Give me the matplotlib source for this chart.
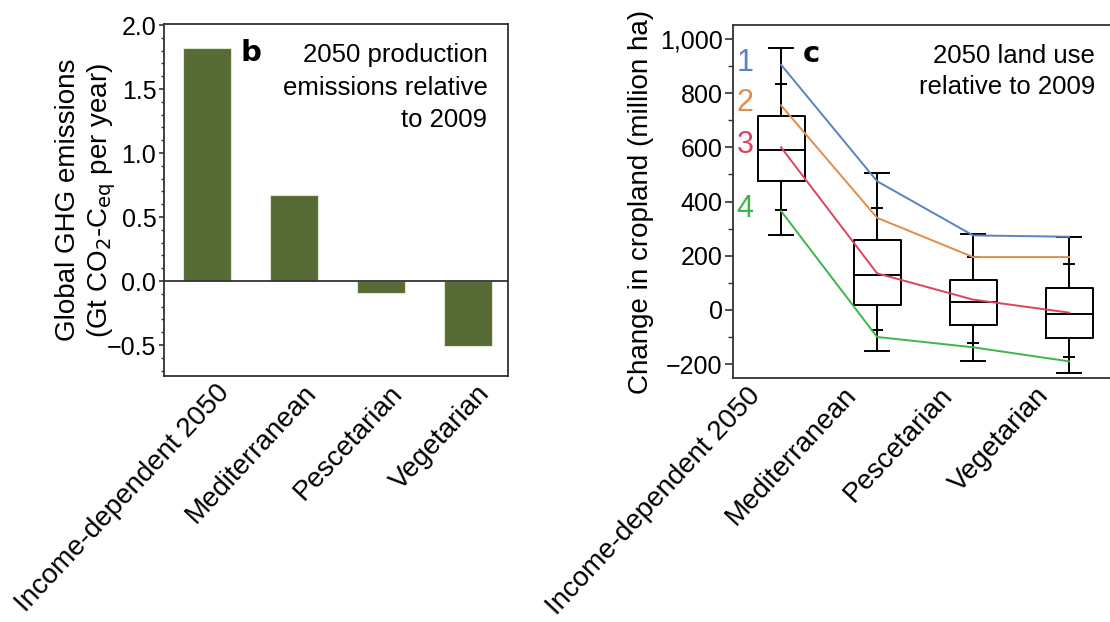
import numpy as np
import matplotlib
matplotlib.use("Agg")
import matplotlib.pyplot as plt
from matplotlib.ticker import MultipleLocator, FuncFormatter
from matplotlib.transforms import ScaledTranslation

plt.rcParams["font.family"] = ["Liberation Sans", "DejaVu Sans"]

diets = ["Income-dependent 2050", "Mediterranean", "Pescetarian", "Vegetarian"]

# panel b: emissions change (Gt CO2-Ceq per year)
emissions = [1.82, 0.67, -0.09, -0.51]

# panel c: cropland change boxes (million ha)
box_min = [275, -152, -188, -232]
box_p10 = [370, -75, -122, -172]
box_q1 = [475, 18, -55, -103]
box_med = [590, 128, 28, -15]
box_q3 = [715, 258, 110, 82]
box_p90 = [835, 375, 195, 168]
box_max = [965, 505, 280, 270]

# scenario lines 1-4
line_1 = [905, 475, 275, 270]
line_2 = [755, 340, 195, 195]
line_3 = [600, 135, 38, -10]
line_4 = [365, -100, -138, -190]
line_names = ["1", "2", "3", "4"]
line_colors = ["#5b80c4", "#e08d4c", "#d9455f", "#3db54a"]

fig = plt.figure(figsize=(11.1, 6.22), dpi=100)
spine_col = "#333333"
fs_tick = 18
fs_xlab = 20
fs_lab = 20
fs_title = 18.5


def style_axis(ax, dx_px, major_len, minor_len):
    ax.set_xticks(np.arange(1, len(diets) + 1))
    ax.set_xticklabels(diets, rotation=47, ha="right", va="top", rotation_mode="anchor", fontsize=fs_xlab)
    ax.tick_params(axis="x", length=0, pad=3)
    off = ScaledTranslation(dx_px / 100, 0, fig.dpi_scale_trans)
    for lab in ax.get_xticklabels():
        lab.set_transform(lab.get_transform() + off)
    ax.tick_params(axis="y", which="major", length=major_len, width=1.2, labelsize=fs_tick, color=spine_col, pad=2)
    ax.tick_params(axis="y", which="minor", length=minor_len, width=1, color=spine_col)
    for s in ax.spines.values():
        s.set_color(spine_col)
        s.set_linewidth(1.3)


# ---------- panel b ----------
ax1 = fig.add_axes([0.1477, 0.3955, 0.31, 0.5659])
x = np.arange(1, len(diets) + 1)
ax1.bar(x, emissions, width=0.55, color="#566b36", edgecolor="#dfe6d2", linewidth=0.8, zorder=2)
ax1.axhline(0, color=spine_col, lw=1.3, zorder=3)
ax1.set_xlim(0.5, 4.46)
ax1.set_ylim(-0.742, 2.008)
ax1.yaxis.set_major_locator(MultipleLocator(0.5))
ax1.yaxis.set_minor_locator(MultipleLocator(0.1))
ax1.yaxis.set_major_formatter(FuncFormatter(lambda v, p: f"{v:.1f}".replace("-", "\u2212")))
style_axis(ax1, 8, 3.5, 2)
ax1.set_ylabel("Global GHG emissions\n(Gt CO$_2$-C$_{\\mathrm{eq}}$ per year)", fontsize=fs_lab,
               linespacing=1.2, labelpad=-8)
ax1.text(0.222, 0.957, "b", transform=ax1.transAxes, fontsize=21, fontweight="bold",
         family="DejaVu Sans", va="top")
ax1.text(0.94, 0.945, "2050 production\nemissions relative\nto 2009", transform=ax1.transAxes,
         fontsize=fs_title, ha="right", va="top", linespacing=1.45)

# ---------- panel c ----------
ax2 = fig.add_axes([0.6604, 0.392, 0.346, 0.568])
stats = []
for i in range(len(diets)):
    stats.append({"med": box_med[i], "q1": box_q1[i], "q3": box_q3[i],
                  "whislo": box_min[i], "whishi": box_max[i], "fliers": []})
lp = dict(color="black", linewidth=1.4)
ax2.bxp(stats, positions=x, widths=0.49, capwidths=0.25, showfliers=False,
        boxprops=lp, whiskerprops=lp, capprops=lp, medianprops=lp, manage_ticks=False)
ax2.hlines(box_p10, x - 0.0625, x + 0.0625, color="black", lw=1.4)
ax2.hlines(box_p90, x - 0.0625, x + 0.0625, color="black", lw=1.4)

for vals, name, col in zip([line_1, line_2, line_3, line_4], line_names, line_colors):
    ax2.plot(x, vals, color=col, lw=1.4, zorder=3)
    ax2.text(0.625, vals[0] + 8, name, color=col, fontsize=22, ha="center", va="center")

ax2.set_xlim(0.5, 4.5)
ax2.set_ylim(-252, 1052)
ax2.yaxis.set_major_locator(MultipleLocator(200))
ax2.yaxis.set_minor_locator(MultipleLocator(100))
ax2.yaxis.set_major_formatter(FuncFormatter(lambda v, p: f"{int(v):,}".replace("-", "\u2212")))
style_axis(ax2, -34, 5.5, 3.5)
ax2.set_ylabel("Change in cropland (million ha)", fontsize=fs_lab, labelpad=4)
ax2.text(0.182, 0.957, "c", transform=ax2.transAxes, fontsize=21, fontweight="bold",
         family="DejaVu Sans", va="top")
ax2.text(0.943, 0.945, "2050 land use\nrelative to 2009", transform=ax2.transAxes,
         fontsize=fs_title, ha="right", va="top", linespacing=1.35)

fig.savefig("out.png", dpi=100)
